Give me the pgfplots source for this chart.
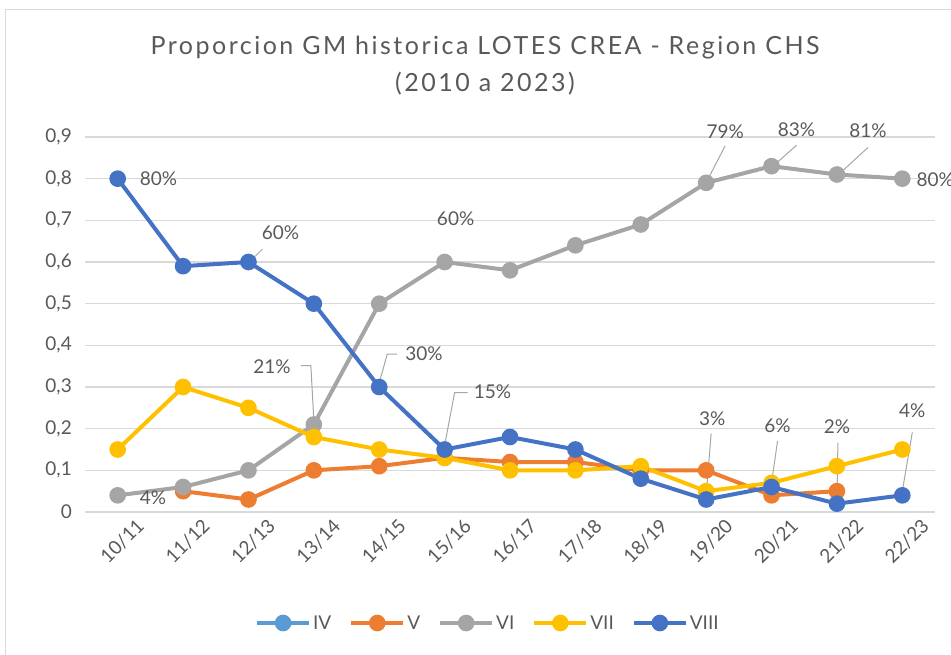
\documentclass[border=0pt]{standalone}
\usepackage{pgfplots}
\pgfplotsset{compat=1.18}
\usepackage{fontspec}
\setmainfont{Lato}
\newfontfamily\titlefont{Lato}[LetterSpace=10]
\definecolor{cIV}{HTML}{5B9BD5}
\definecolor{cV}{HTML}{ED7D31}
\definecolor{cVI}{HTML}{A5A5A5}
\definecolor{cVII}{HTML}{FFC000}
\definecolor{cVIII}{HTML}{4472C4}
\definecolor{gridc}{HTML}{D9D9D9}
\definecolor{txt}{HTML}{595959}
\definecolor{lead}{HTML}{A6A6A6}
\begin{document}
\begin{tikzpicture}
\useasboundingbox (0pt,0pt) rectangle (951pt,654pt);
\draw[color=gridc, line width=1pt] (5pt,-10pt) rectangle (970pt,644pt);
\node[text=txt, font=\titlefont\fontsize{25}{37}\selectfont, align=center] at (485pt,588pt) {Proporcion GM historica LOTES CREA - Region CHS\\(2010 a 2023)};
\begin{axis}[
  at={(85pt,142pt)}, anchor=south west, scale only axis,
  width=850pt, height=375pt,
  xmin=-0.5, xmax=12.5, ymin=0, ymax=0.9,
  ytick={0,0.1,0.2,0.3,0.4,0.5,0.6,0.7,0.8,0.9},
  xtick={0,1,2,3,4,5,6,7,8,9,10,11,12},
  xticklabels={10/11,11/12,12/13,13/14,14/15,15/16,16/17,17/18,18/19,19/20,20/21,21/22,22/23},
  axis line style={draw=none},
  tick style={draw=none},
  ymajorgrids, grid style={gridc, line width=1.2pt},
  ticklabel style={text=txt, font=\fontsize{19}{22}\selectfont},
  yticklabel style={anchor=east, xshift=-13pt, inner sep=0pt},
  xticklabel style={rotate=45, anchor=east, inner sep=0pt, xshift=9pt, yshift=-24pt},
  /pgf/number format/.cd, use comma, fixed, precision=1, assume math mode=true,
  /pgfplots/.cd,
  clip=false,
  legend columns=5,
  legend style={draw=none, fill=none, at={(0.474,-0.296)}, anchor=center,
    font=\fontsize{19}{22}\selectfont, text=txt,
    nodes={inner xsep=2pt},
    /tikz/every even column/.append style={column sep=16pt}},
  legend image code/.code={
    \draw[mark repeat=2, mark phase=2, #1] plot coordinates {(0pt,0pt) (26pt,0pt) (52pt,0pt)};},
  every axis plot/.append style={line width=4pt, mark=*, mark size=6.3pt, mark options={solid, line width=0pt}},
]
\addlegendimage{cIV, line width=4pt, mark=*, mark size=6.3pt, mark options={fill=cIV, draw=cIV}}
\addlegendentry{IV}
\addplot[cV, mark options={fill=cV, draw=cV}] coordinates {
(1,0.05) (2,0.03) (3,0.10) (4,0.11) (5,0.13) (6,0.12) (7,0.12) (8,0.10) (9,0.10) (10,0.04) (11,0.05)};
\addlegendentry{V}
\addplot[cVI, mark options={fill=cVI, draw=cVI}] coordinates {
(0,0.04) (1,0.06) (2,0.10) (3,0.21) (4,0.50) (5,0.60) (6,0.58) (7,0.64) (8,0.69) (9,0.79) (10,0.83) (11,0.81) (12,0.80)};
\addlegendentry{VI}
\addplot[cVII, mark options={fill=cVII, draw=cVII}] coordinates {
(0,0.15) (1,0.30) (2,0.25) (3,0.18) (4,0.15) (5,0.13) (6,0.10) (7,0.10) (8,0.11) (9,0.05) (10,0.07) (11,0.11) (12,0.15)};
\addlegendentry{VII}
\addplot[cVIII, mark options={fill=cVIII, draw=cVIII}] coordinates {
(0,0.80) (1,0.59) (2,0.60) (3,0.50) (4,0.30) (5,0.15) (6,0.18) (7,0.15) (8,0.08) (9,0.03) (10,0.06) (11,0.02) (12,0.04)};
\addlegendentry{VIII}
% leaders
\begin{scope}[lead, line width=1pt]
\draw (axis cs:2,0.60) ++(4pt,3pt) -- ++(10pt,10pt);
\draw (axis cs:4,0.30) ++(0pt,4pt) -- ++(8pt,29pt) -- ++(10pt,0pt);
\draw (axis cs:5,0.15) ++(0pt,4pt) -- ++(10pt,53pt) -- ++(13pt,0pt);
\draw (axis cs:3,0.21) ++(0pt,4pt) -- ++(-3pt,55pt) -- ++(-10pt,0pt);
\draw (axis cs:9,0.79) ++(3pt,6pt) -- ++(16pt,31pt);
\draw (axis cs:10,0.83) ++(6pt,4pt) -- ++(19pt,17pt);
\draw (axis cs:11,0.81) ++(6pt,4pt) -- ++(25pt,23pt);
\draw (axis cs:9,0.03) ++(0pt,4pt) -- ++(5pt,62pt);
\draw (axis cs:10,0.06) ++(0pt,4pt) -- ++(6pt,42pt);
\draw (axis cs:11,0.02) ++(0pt,4pt) -- ++(1pt,57pt);
\draw (axis cs:12,0.04) ++(0pt,4pt) -- ++(10pt,59pt);
\end{scope}
% labels
\begin{scope}[every node/.style={text=txt, font=\fontsize{19}{22}\selectfont, inner sep=0pt}]
\node[anchor=west] at (axis cs:0,0.80) [xshift=22pt] {80\%};
\node at (axis cs:2,0.60) [xshift=32pt, yshift=29pt] {60\%};
\node[anchor=west] at (axis cs:4,0.30) [xshift=26pt, yshift=33pt] {30\%};
\node[anchor=west] at (axis cs:5,0.15) [xshift=29pt, yshift=58pt] {15\%};
\node[anchor=east] at (axis cs:3,0.21) [xshift=-23pt, yshift=58pt] {21\%};
\node[anchor=west] at (axis cs:0,0.04) [xshift=22pt, yshift=-2pt] {4\%};
\node at (axis cs:5,0.60) [xshift=11pt, yshift=43pt] {60\%};
\node at (axis cs:9,0.79) [xshift=19pt, yshift=51pt] {79\%};
\node at (axis cs:10,0.83) [xshift=25pt, yshift=36pt] {83\%};
\node at (axis cs:11,0.81) [xshift=31pt, yshift=44pt] {81\%};
\node[anchor=west] at (axis cs:12,0.80) [xshift=14pt, yshift=-1pt] {80\%};
\node at (axis cs:9,0.03) [xshift=6pt, yshift=81pt] {3\%};
\node at (axis cs:10,0.06) [xshift=6pt, yshift=61pt] {6\%};
\node at (axis cs:11,0.02) [xshift=0pt, yshift=77pt] {2\%};
\node at (axis cs:12,0.04) [xshift=10pt, yshift=85pt] {4\%};
\end{scope}
\end{axis}
\end{tikzpicture}
\end{document}
